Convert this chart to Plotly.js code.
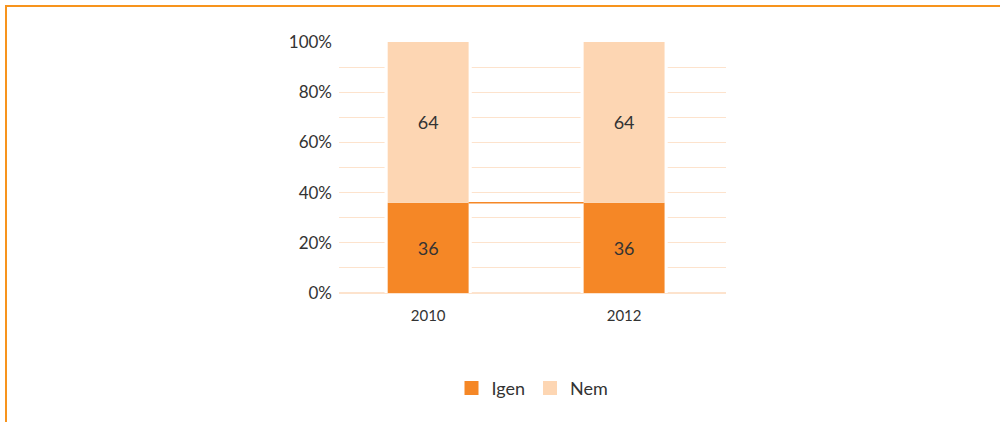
<!DOCTYPE html>
<html>
<head>
<meta charset="utf-8">
<script src="https://cdn.plot.ly/plotly-3.0.1.min.js"></script>
<style>
html,body{margin:0;padding:0;background:#fff;}
#wrap{position:relative;width:1000px;height:422px;}
#chart{width:1000px;height:422px;}
#frame{position:absolute;left:5px;top:5px;right:0;bottom:0;border-top:2px solid #F7941D;border-left:2px solid #F7941D;pointer-events:none;}
</style>
</head>
<body>
<div id="wrap"><div id="chart"></div><div id="frame"></div></div>
<script>
const categories = ["2010", "2012"];
const igen = [36, 36];
const nem = [64, 64];
const seriesNames = ["Igen", "Nem"];
const yTickVals = [0, 20, 40, 60, 80, 100];
const yTickText = ["0%", "20%", "40%", "60%", "80%", "100%"];

const barWidth = 0.413;
const gapWidth = 0.445;
const dark = "#F58726";
const light = "#FDD6B3";
const fontFam = "Lato, 'Open Sans', sans-serif";
const textFont = {family: fontFam, size: 18, color: "#333"};
const xs = categories.map((c, i) => i);
const totals = igen.map((v, i) => v + nem[i]);

const traces = [
  {type: "bar", x: xs, y: totals, width: gapWidth, marker: {color: "#fff"},
   showlegend: false, hoverinfo: "skip"},
  {type: "bar", name: seriesNames[0], x: xs, y: igen, base: 0, width: barWidth,
   text: igen.map(String), textposition: "inside", insidetextanchor: "middle",
   textfont: textFont, marker: {color: dark}, showlegend: false, hoverinfo: "skip"},
  {type: "bar", name: seriesNames[1], x: xs, y: nem, base: igen, width: barWidth,
   text: nem.map(String), textposition: "inside", insidetextanchor: "middle",
   textfont: textFont, marker: {color: light}, showlegend: false, hoverinfo: "skip"},
  {type: "scatter", mode: "markers", name: seriesNames[0], x: [null], y: [null],
   marker: {symbol: "square", size: 14, color: dark}},
  {type: "scatter", mode: "markers", name: seriesNames[1], x: [null], y: [null],
   marker: {symbol: "square", size: 14, color: light}}
];

const layout = {
  width: 1000, height: 422,
  margin: {l: 339, r: 274, t: 42, b: 129},
  barmode: "overlay",
  paper_bgcolor: "#fff", plot_bgcolor: "#fff",
  showlegend: true,
  legend: {orientation: "h", x: 0.5, xanchor: "center", y: -0.38, yanchor: "middle",
           font: {family: fontFam, size: 18, color: "#333"},
           itemwidth: 30, traceorder: "normal"},
  xaxis: {range: [-0.455, 1.52], tickvals: xs, ticktext: categories,
          showgrid: false, zeroline: false, showline: false, ticks: "", ticklabelstandoff: 12,
          tickfont: {family: fontFam, size: 15, color: "#333"}},
  yaxis: {range: [0, 100], tickvals: yTickVals, ticktext: yTickText,
          showgrid: true, gridcolor: "#FDE3CD", gridwidth: 1,
          minor: {dtick: 10, showgrid: true, gridcolor: "#FDE3CD", gridwidth: 1},
          zeroline: true, zerolinecolor: "#FDE3CD", zerolinewidth: 1.5,
          showline: false, ticks: "", ticklabelstandoff: 6,
          tickfont: {family: fontFam, size: 17, color: "#333"}},
  shapes: [
    {type: "line", xref: "x", yref: "y", x0: xs[0] + barWidth / 2, x1: xs[1] - barWidth / 2,
     y0: igen[0], y1: igen[1], line: {color: dark, width: 1.5}, layer: "above"}
  ]
};

Plotly.newPlot("chart", traces, layout, {displayModeBar: false, staticPlot: true});
</script>
</body>
</html>
